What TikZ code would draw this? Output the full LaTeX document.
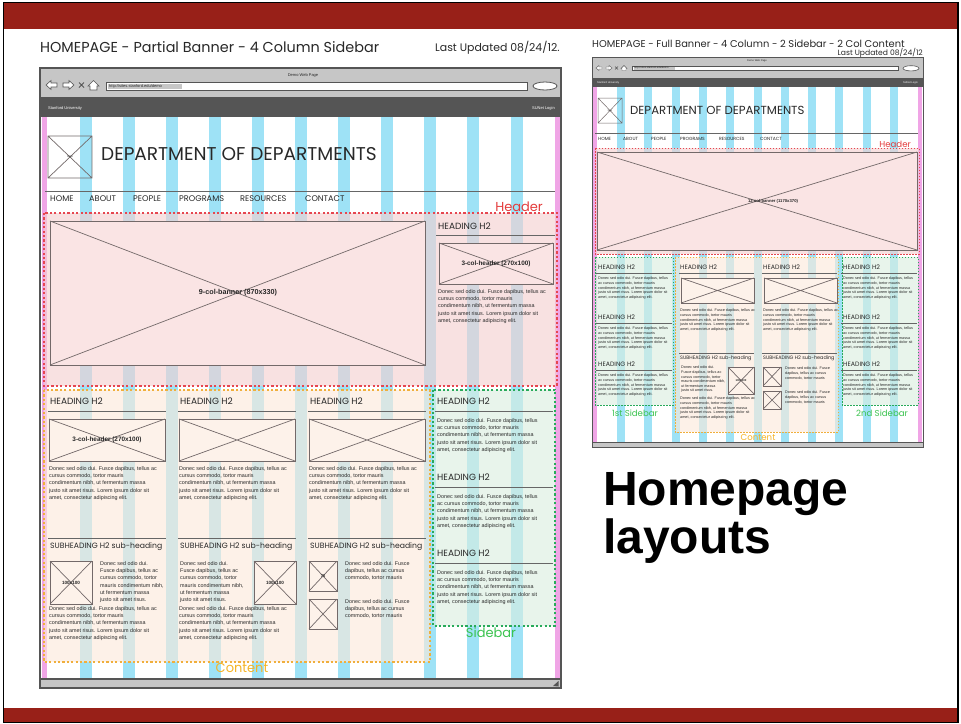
\documentclass[tikz,border=0pt]{standalone}
\usepackage{fontspec}
\setmainfont{Poppins}
\newfontfamily\bodyfont{Liberation Sans}
\definecolor{slidered}{RGB}{152,32,24}
\definecolor{stripeblue}{RGB}{158,226,246}
\definecolor{edgepink}{RGB}{240,165,230}
\definecolor{hdrfill}{RGB}{244,208,208}
\definecolor{cntfill}{RGB}{252,234,218}
\definecolor{sbfill}{RGB}{218,238,224}
\definecolor{hdrdash}{RGB}{230,70,80}
\definecolor{cntdash}{RGB}{240,175,60}
\definecolor{sbdash}{RGB}{40,170,90}
\definecolor{hdrlabel}{RGB}{228,60,60}
\definecolor{cntlabel}{RGB}{245,180,40}
\definecolor{sblabel}{RGB}{60,195,80}
\definecolor{wire}{RGB}{115,105,105}
\definecolor{ink}{RGB}{40,40,40}
\definecolor{chrome}{RGB}{198,198,198}
\definecolor{darkbar}{RGB}{85,85,85}
\definecolor{banfill}{RGB}{250,228,228}
\definecolor{boxpeach}{RGB}{253,242,234}
\newcommand\loremA{Donec sed odio dui. Fusce dapibus, tellus ac\\cursus commodo, tortor mauris\\condimentum nibh, ut fermentum massa\\justo sit amet risus. Lorem ipsum dolor sit\\amet, consectetur adipiscing elit.}
\newcommand\loremS{Donec sed odio dui. Fusce dapibus, tellus\\ac cursus commodo, tortor mauris\\condimentum nibh, ut fermentum massa\\justo sit amet risus. Lorem ipsum dolor sit\\amet, consectetur adipiscing elit.}
\newcommand\loremB{Donec sed odio dui.\\Fusce dapibus, tellus ac\\cursus commodo, tortor\\mauris condimentum nibh,\\ut fermentum massa\\justo sit amet risus.}
\newcommand\loremC{Donec sed odio dui. Fusce\\dapibus, tellus ac cursus\\commodo, tortor mauris}
\newcommand\xph[5][boxpeach]{\filldraw[ph,fill=#1] (#2,#3) rectangle (#4,#5); \draw[ph] (#2,#3) -- (#4,#5) (#2,#5) -- (#4,#3);}
\tikzset{
  ph/.style={draw=wire, line width=0.7},
  stripe/.style={fill=stripeblue},
  zone/.style={line width=1.1, dash pattern=on 2.2pt off 2.2pt},
  hdrzone/.style={zone, draw=hdrdash, fill=hdrfill, fill opacity=0.62},
  cntzone/.style={zone, draw=cntdash, fill=cntfill, fill opacity=0.62},
  sbzone/.style={zone, draw=sbdash, fill=sbfill, fill opacity=0.62},
  rzone/.style={line width=0.8, dash pattern=on 1.5pt off 1.5pt},
  para/.style={font=\bodyfont\fontsize{5.4}{7.3}\selectfont, text=ink, align=left, inner sep=0pt, anchor=north west},
  rpara/.style={font=\bodyfont\fontsize{3.75}{4.6}\selectfont, text=ink, align=left, inner sep=0pt, anchor=north west},
  hd/.style={font=\fontsize{9}{9}\selectfont, text=ink, anchor=west, inner sep=0pt},
  rhd/.style={font=\fontsize{6.3}{6.3}\selectfont, text=ink, anchor=west, inner sep=0pt},
  sub/.style={font=\fontsize{7.7}{7.7}\selectfont, text=ink, anchor=west, inner sep=0pt},
  rsub/.style={font=\fontsize{4.9}{4.9}\selectfont, text=ink, anchor=west, inner sep=0pt},
  nav/.style={font=\fontsize{8.2}{8.2}\selectfont, text=ink, anchor=west, inner sep=0pt},
  rnav/.style={font=\fontsize{4.5}{4.5}\selectfont, text=ink, anchor=west, inner sep=0pt},
  phlabel/.style={font=\bodyfont\bfseries\fontsize{7.2}{7.2}\selectfont, text=ink, inner sep=0pt},
  rphlabel/.style={font=\bodyfont\bfseries\fontsize{4.2}{4.2}\selectfont, text=ink, inner sep=0pt},
  tiny/.style={font=\bodyfont\fontsize{4}{4}\selectfont, text=ink, inner sep=0pt},
  tinywhite/.style={font=\bodyfont\fontsize{4}{4}\selectfont, text=white, inner sep=0pt},
  rtiny/.style={font=\bodyfont\fontsize{2.6}{2.6}\selectfont, text=ink, inner sep=0pt},
  rtinywhite/.style={font=\bodyfont\fontsize{2.6}{2.6}\selectfont, text=white, inner sep=0pt},
  sepline/.style={draw=gray!80!black, line width=0.7},
  icon/.style={draw=darkbar, fill=white, line width=0.6},
  frameedge/.style={draw=darkbar, line width=1.1}
}
\begin{document}
\begin{tikzpicture}[x=1pt,y=-1pt]
\useasboundingbox (0,0) rectangle (961,723);
\fill[white] (0,0) rectangle (961,723);
% slide bars and frame
\fill[slidered] (4,3) rectangle (958,29);
\fill[slidered] (4,708) rectangle (958,722);
\draw[black, line width=1.2] (3.5,2.5) rectangle (958,722.4);

% ================= LEFT LAYOUT =================
\node[font=\fontsize{14.4}{14.4}\selectfont, text=ink, anchor=west, inner sep=0pt] (ltitle) at (40,47) {HOMEPAGE - Partial Banner - 4 Column Sidebar};
\node[font=\fontsize{10.9}{10.9}\selectfont, text=ink, anchor=west, inner sep=0pt] (lupd) at (435,47.5) {Last Updated 08/24/12.};

\filldraw[frameedge, fill=white] (40,68) rectangle (561,688);
\fill[chrome] (40,68) rectangle (561,98);
\draw[frameedge] (40,68) rectangle (561,98);
\node[tiny] (lweb) at (303,75) {Demo Web Page};
\draw[icon] (46,85) -- (51,80.5) -- (51,83) -- (57,83) -- (57,87) -- (51,87) -- (51,89.5) -- cycle;
\draw[icon] (74,85) -- (69,80.5) -- (69,83) -- (63,83) -- (63,87) -- (69,87) -- (69,89.5) -- cycle;
\draw[darkbar, line width=0.8] (79,82.5) -- (84,87.5) (79,87.5) -- (84,82.5);
\draw[icon] (88,86) -- (93.5,80.5) -- (99,86) -- (97,86) -- (97,90) -- (90,90) -- (90,86) -- cycle;
\draw[fill=white, draw=darkbar, line width=0.8] (106,82) rectangle (527,90);
\fill[gray!45] (108,83.5) rectangle (182,88.5);
\node[tiny, anchor=west] (lurl) at (109,86) {http://sites.stanford.edu/demo};
\draw[fill=white, draw=darkbar, line width=0.8] (545,86) ellipse (12pt and 4pt);
\fill[darkbar] (40,98) rectangle (561,117);
\node[tinywhite, anchor=west] (lsu) at (48,108) {Stanford University};
\node[tinywhite, anchor=east] (llogin) at (555,108) {SUNet Login};

% page grid
\fill[edgepink] (42,117) rectangle (47,679);
\fill[edgepink] (555,117) rectangle (560,679);
\foreach \k in {0,...,10} \fill[stripe] ({79.5+43.1*\k},117) rectangle ++(12,562);
\filldraw[frameedge, fill=chrome] (40,679) rectangle (561,688);
\fill[darkbar] (553,686) -- (558.5,681) -- (558.5,686.5) -- cycle;

% header content
\draw[ph] (48,136) rectangle (92,178) (48,136) -- (92,178) (48,178) -- (92,136);
\node[font=\bodyfont\fontsize{3}{3}\selectfont, text=ink, inner sep=0pt] (llogo) at (70,157) {logo};
\node[font=\fontsize{18.5}{18.5}\selectfont, text=ink, anchor=west, inner sep=0pt] (ldept) at (101,154) {DEPARTMENT OF DEPARTMENTS};
\draw[sepline] (45,191) -- (555,191);
\node[nav] (ln1) at (50,199) {HOME};
\node[nav] (ln2) at (89,199) {ABOUT};
\node[nav] (ln3) at (133,199) {PEOPLE};
\node[nav] (ln4) at (179,199) {PROGRAMS};
\node[nav] (ln5) at (240,199) {RESOURCES};
\node[nav] (ln6) at (305,199) {CONTACT};

% zones
\filldraw[hdrzone] (44,213) rectangle (557,386);
\filldraw[cntzone] (44,390) rectangle (430,662);
\filldraw[sbzone] (433,390) rectangle (555,626);
\node[font=\fontsize{13}{13}\selectfont, text=hdrlabel, anchor=east, inner sep=0pt] (lhdrlab) at (543,207) {Header};
\node[font=\fontsize{13}{13}\selectfont, text=cntlabel, inner sep=0pt] (lcntlab) at (242,668) {Content};
\node[font=\fontsize{13}{13}\selectfont, text=sblabel, inner sep=0pt] (lsblab) at (491,633) {Sidebar};

% banner
\xph[banfill]{50}{221}{425}{365}
\node[phlabel] (lban) at (238,293) {9-col-banner (870x330)};
\node[hd] (lh0) at (438,226) {HEADING H2};
\draw[sepline] (436,235) -- (555,235);
\xph[banfill]{439}{243}{553}{284}
\node[phlabel, font=\bodyfont\bfseries\fontsize{6.4}{6.4}\selectfont] (lhb) at (496,264) {3-col-header (270x100)};
\node[para] (lp0) at (438,289) {\loremA};

% content columns
\foreach \c/\nm in {0/a,1/b,2/c}{
  \pgfmathsetmacro\xl{48+130*\c}
  \node[hd] (lhd\nm) at (\xl+2,401) {HEADING H2};
  \draw[sepline] (\xl,411) -- (\xl+118,411);
  \xph{\xl+1}{419}{\xl+117}{461}
  \node[para] (lpar\nm) at (\xl+1,466) {\loremA};
  \draw[sepline] (\xl,538) -- (\xl+118,538);
  \node[sub] (lsub\nm) at (\xl+2,547) {SUBHEADING H2 sub-heading};
}
\node[phlabel, font=\bodyfont\bfseries\fontsize{6.4}{6.4}\selectfont] (lcolbox) at (107,440) {3-col-header (270x100)};
% col1 sub
\xph{50}{561}{92}{604}
\node[phlabel, font=\bodyfont\bfseries\fontsize{4.6}{4.6}\selectfont] (lb1) at (71,582.5) {100x100};
\node[para] (ls1) at (100,561) {\loremB};
\node[para] (ls1b) at (49,606) {\loremA};
% col2 sub
\node[para] (ls2) at (180,561) {\loremB};
\xph{254}{561}{296}{604}
\node[phlabel, font=\bodyfont\bfseries\fontsize{4.6}{4.6}\selectfont] (lb2) at (275,582.5) {100x100};
\node[para] (ls2b) at (179,606) {\loremA};
% col3 sub
\xph{309}{561}{337}{591}
\node[phlabel, font=\bodyfont\bfseries\fontsize{4}{4}\selectfont] (lb3) at (323,576) {75};
\xph{309}{599}{337}{629}
\node[para] (ls3) at (345,561) {\loremC};
\node[para] (ls3b) at (345,599) {\loremC};

% sidebar
\foreach \y/\nm in {401/a,477/b,553/c}{
  \node[hd] (lsh\nm) at (437,\y) {HEADING H2};
  \draw[sepline] (435,\y+10) -- (553,\y+10);
  \node[para] (lsp\nm) at (437,\y+17) {\loremS};
}

% ================= RIGHT LAYOUT =================
\node[font=\fontsize{9.9}{9.9}\selectfont, text=ink, anchor=west, inner sep=0pt] (rtitle) at (592,44) {HOMEPAGE - Full Banner - 4 Column - 2 Sidebar - 2 Col Content};
\node[font=\fontsize{7.6}{7.6}\selectfont, text=ink, anchor=east, inner sep=0pt] (rupd) at (923,53) {Last Updated 08/24/12};

\filldraw[frameedge, fill=white, line width=0.9] (592,57) rectangle (923,447);
\fill[chrome] (592,57) rectangle (923,78);
\draw[frameedge, line width=0.9] (592,57) rectangle (923,78);
\node[rtiny] (rweb) at (757,60.5) {Demo Web Page};
\draw[icon, line width=0.4] (596,68) -- (599,65.5) -- (599,67) -- (602,67) -- (602,69) -- (599,69) -- (599,70.5) -- cycle;
\draw[icon, line width=0.4] (612,68) -- (609,65.5) -- (609,67) -- (606,67) -- (606,69) -- (609,69) -- (609,70.5) -- cycle;
\draw[darkbar, line width=0.5] (615,66.5) -- (618,69.5) (615,69.5) -- (618,66.5);
\draw[icon, line width=0.4] (621,68.5) -- (624,65.5) -- (627,68.5) -- (626,68.5) -- (626,70.5) -- (622,70.5) -- (622,68.5) -- cycle;
\draw[fill=white, draw=darkbar, line width=0.6] (632,66) rectangle (898,70.5);
\fill[gray!45] (633.5,66.8) rectangle (675,69.7);
\node[rtiny, anchor=west] (rurl) at (634,68.3) {http://sites.stanford.edu/demo};
\draw[fill=white, draw=darkbar, line width=0.6] (911,68.3) ellipse (8pt and 2.6pt);
\fill[darkbar] (592,78) rectangle (923,87);
\node[rtinywhite, anchor=west] (rsu) at (597,82.5) {Stanford University};
\node[rtinywhite, anchor=east] (rlogin) at (918,82.5) {SUNet Login};

\fill[edgepink] (593,87) rectangle (597,442);
\fill[edgepink] (917.5,87) rectangle (922,442);
\foreach \k in {0,...,10} \fill[stripe] ({617+27.3*\k},87) rectangle ++(8,355);
\filldraw[frameedge, fill=chrome, line width=0.9] (592,442) rectangle (923,447);

\draw[ph, line width=0.5] (598,98) rectangle (622,123) (598,98) -- (622,123) (598,123) -- (622,98);
\node[font=\bodyfont\fontsize{2.2}{2.2}\selectfont, text=ink, inner sep=0pt] (rlogo) at (610,110.5) {logo};
\node[font=\fontsize{11.7}{11.7}\selectfont, text=ink, anchor=west, inner sep=0pt] (rdept) at (630,110) {DEPARTMENT OF DEPARTMENTS};
\draw[sepline, line width=0.5] (595,133) -- (918,133);
\node[rnav] (rn1) at (598,139) {HOME};
\node[rnav] (rn2) at (623,139) {ABOUT};
\node[rnav] (rn3) at (651,139) {PEOPLE};
\node[rnav] (rn4) at (680,139) {PROGRAMS};
\node[rnav] (rn5) at (719,139) {RESOURCES};
\node[rnav] (rn6) at (760,139) {CONTACT};

\filldraw[hdrzone, rzone] (595,148) rectangle (919,254);
\filldraw[sbzone, rzone] (595,257) rectangle (673,405);
\filldraw[cntzone, rzone] (675,257) rectangle (838,432);
\filldraw[sbzone, rzone] (842,257) rectangle (918,405);
\node[font=\fontsize{8.6}{8.6}\selectfont, text=hdrlabel, anchor=east, inner sep=0pt] (rhdrlab) at (911,144) {Header};
\node[font=\fontsize{8.6}{8.6}\selectfont, text=sblabel, inner sep=0pt] (rsb1lab) at (635,413) {1st Sidebar};
\node[font=\fontsize{8.6}{8.6}\selectfont, text=cntlabel, inner sep=0pt] (rcntlab) at (758,437) {Content};
\node[font=\fontsize{8.6}{8.6}\selectfont, text=sblabel, inner sep=0pt] (rsb2lab) at (882,413) {2nd Sidebar};

\xph[banfill]{597}{152}{917}{250}
\node[rphlabel] (rban) at (773,201) {12-col-banner (1170x370)};

\foreach \xx/\nm in {598/a,843/b}{
  \foreach \y/\mm in {267/a,317/b,364/c}{
    \node[rhd] (rsh\nm\mm) at (\xx,\y) {HEADING H2};
    \draw[sepline, line width=0.5] (\xx-2,\y+6) -- (\xx+74,\y+6);
    \node[rpara] (rsp\nm\mm) at (\xx,\y+10) {\loremS};
  }
}
\foreach \xx/\nm in {680/a,763/b}{
  \node[rhd] (rch\nm) at (\xx,267) {HEADING H2};
  \draw[sepline, line width=0.5] (\xx-1,273) -- (\xx+74,273);
  \xph{\xx+1}{278}{\xx+74}{303}
  \node[rpara] (rcp\nm) at (\xx,309) {\loremA};
  \draw[sepline, line width=0.5] (\xx-1,353) -- (\xx+74,353);
  \node[rsub] (rcs\nm) at (\xx,358) {SUBHEADING H2 sub-heading};
}
\node[rpara] (rs1) at (681,366) {\loremB};
\xph{728}{367}{754}{394}
\node[rphlabel, font=\bodyfont\bfseries\fontsize{2.8}{2.8}\selectfont] (rb1) at (741,380.5) {100x100};
\node[rpara] (rs1b) at (680,397) {\loremA};
\xph{763}{367}{781}{386}
\xph{763}{391}{781}{409}
\node[rpara] (rs2) at (785,367) {\loremC};
\node[rpara] (rs2b) at (785,391) {\loremC};

% ================= CAPTION =================
\node[font=\bodyfont\bfseries\fontsize{48}{48}\selectfont, text=black, anchor=base west, inner sep=0pt] (cap1) at (603,505) {Homepage};
\node[font=\bodyfont\bfseries\fontsize{48}{48}\selectfont, text=black, anchor=base west, inner sep=0pt] (cap2) at (603,553) {layouts};
\end{tikzpicture}
\end{document}
